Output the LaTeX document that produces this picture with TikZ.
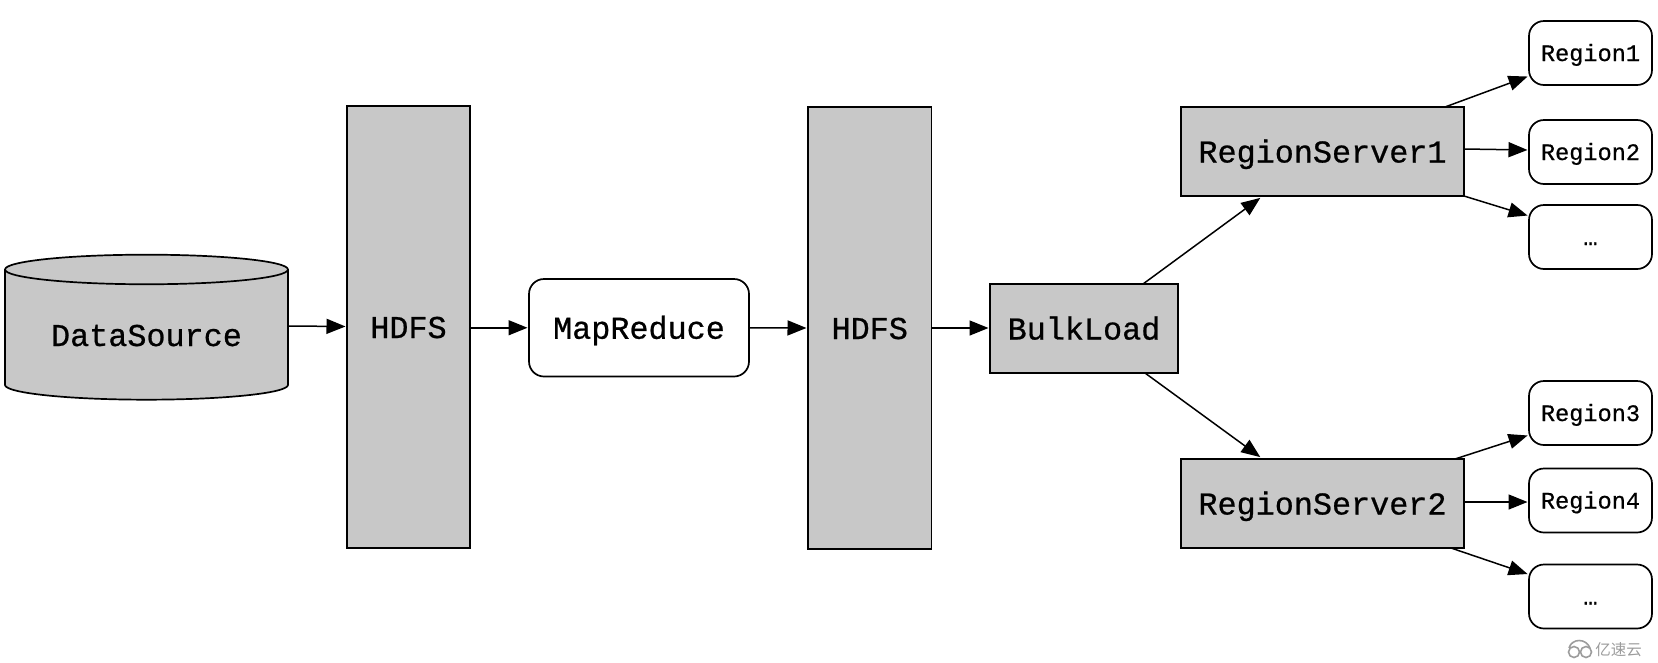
\documentclass[tikz,border=0pt]{standalone}
\usepackage{fontspec}
\newfontfamily\labelfont[FakeBold=0.7]{Liberation Mono}
\newfontfamily\cjkwm{Noto Sans CJK SC}
\usetikzlibrary{arrows.meta,shapes.geometric}
\definecolor{boxgray}{HTML}{C8C8C8}
\definecolor{wmgray}{HTML}{9C9C9C}
\tikzset{
  base/.style={draw=black,line width=1.7pt,inner sep=0pt,outer sep=0pt,align=center,text=black},
  bigtext/.style={font=\labelfont\fontsize{31.8}{36}\selectfont,text height=24pt,text depth=2pt},
  grayrect/.style={base,fill=boxgray,bigtext},
  whitebox/.style={base,fill=white,rounded corners=15pt,bigtext},
  regionbox/.style={base,fill=white,rounded corners=15pt,minimum width=123pt,minimum height=64pt,font=\labelfont\fontsize{23.6}{28}\selectfont,text height=18pt,text depth=2pt},
  conn/.style={line width=1.5pt,-{Triangle[length=19pt,width=15pt]},shorten >=1.5pt},
}
\begin{document}
\begin{tikzpicture}[x=1pt,y=-1pt]
\useasboundingbox (0,0) rectangle (1658,662);
\node[base,fill=boxgray,shape=cylinder,shape border rotate=90,aspect=0.155,cylinder uses custom fill,cylinder body fill=boxgray,cylinder end fill=boxgray,minimum width=283pt,minimum height=145pt,bigtext] (ds) at (146.5,335) {DataSource};
\node[grayrect,minimum width=123pt,minimum height=442pt] (hdfsa) at (408.5,327) {HDFS};
\node[whitebox,minimum width=220pt,minimum height=97.5pt] (mr) at (639,327.75) {MapReduce};
\node[grayrect,minimum width=123.5pt,minimum height=442pt] (hdfsb) at (869.75,328) {HDFS};
\node[grayrect,minimum width=188pt,minimum height=89pt] (bulk) at (1084,328.5) {BulkLoad};
\node[grayrect,minimum width=283pt,minimum height=89pt] (rsa) at (1322.5,151.5) {RegionServer1};
\node[grayrect,minimum width=283pt,minimum height=89pt] (rsb) at (1322.5,503.5) {RegionServer2};
\node[regionbox] (ra) at (1590.5,53) {Region1};
\node[regionbox] (rb) at (1590.5,152) {Region2};
\node[regionbox] (dota) at (1590.5,237) {…};
\node[regionbox] (rc) at (1590.5,413) {Region3};
\node[regionbox] (rd) at (1590.5,500.5) {Region4};
\node[regionbox] (dotb) at (1590.5,596.5) {…};
\draw[conn] ([yshift=9pt]ds.east) -- ([yshift=0.5pt]hdfsa.west);
\draw[conn] ([yshift=-0.75pt]hdfsa.east) -- (mr.west);
\draw[conn] (mr.east) -- (hdfsb.west);
\draw[conn] (hdfsb.east) -- ([yshift=0.5pt]bulk.west);
\draw[conn] ([xshift=59pt]bulk.north) -- ([xshift=-61pt,yshift=-1pt]rsa.south);
\draw[conn] ([xshift=61pt]bulk.south) -- ([xshift=-61pt,yshift=1pt]rsb.north);
\draw[conn] ([xshift=122.5pt]rsa.north) -- ([yshift=9pt]ra.south west);
\draw[conn] ([yshift=2.5pt]rsa.east) -- ([yshift=2pt]rb.west);
\draw[conn] (rsa.south east) -- ([yshift=-11pt]dota.north west);
\draw[conn] ([xshift=132.5pt]rsb.north) -- ([yshift=10pt]rc.south west);
\draw[conn] ([yshift=1.5pt]rsb.east) -- ([yshift=-1.5pt]rd.west);
\draw[conn] ([xshift=128.5pt]rsb.south) -- ([yshift=-10pt]dotb.north west);
% watermark
\node[inner sep=0pt,text=wmgray,font=\cjkwm\fontsize{15.5}{16}\selectfont] (wm) at (1618.5,650) {亿速云};
\draw[wmgray,line width=1.6pt] (1574,652) circle (5.5pt) (1586,652) circle (5.5pt);
\draw[wmgray,line width=1.6pt] (1569,648) .. controls (1572,638) and (1586,638) .. (1590,648);
\end{tikzpicture}
\end{document}
